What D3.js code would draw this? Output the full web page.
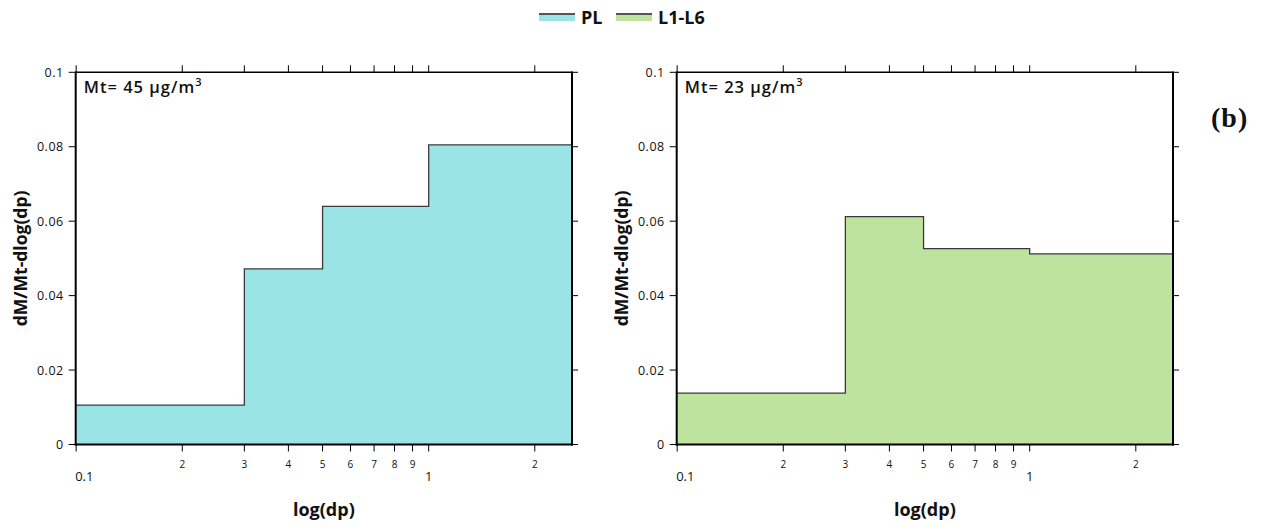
<!DOCTYPE html>
<html>
<head>
<meta charset="utf-8">
<script src="https://cdn.jsdelivr.net/npm/d3@7"></script>
<style>
  html, body { margin: 0; padding: 0; background: #fff; }
  svg { display: block; }
  text { font-family: "Open Sans", "Noto Sans", sans-serif; fill: #111; }
</style>
</head>
<body>
<svg id="chart" width="1262" height="527"></svg>
<script>
// ---- data ----
const categories = ["PL", "L1-L6"];
const binEdges = [0.1, 0.3, 0.5, 1.0, 2.55];
const plValues = [0.0106, 0.0472, 0.0640, 0.0805];
const l16Values = [0.0138, 0.0612, 0.0526, 0.0512];
const mtValues = [45, 23];
const seriesColors = ["#9BE4E6", "#BDE39F"];
const xTickValues = [0.1, 0.2, 0.3, 0.4, 0.5, 0.6, 0.7, 0.8, 0.9, 1, 2];
const xTickLabels = ["0.1", "2", "3", "4", "5", "6", "7", "8", "9", "1", "2"];
const yTickValues = [0, 0.02, 0.04, 0.06, 0.08, 0.1];
const yTickLabels = ["0", "0.02", "0.04", "0.06", "0.08", "0.1"];
const xDomain = [0.0997, 2.55];
const yDomain = [0, 0.1];
const xTitle = "log(dp)";
const yTitle = "dM/Mt-dlog(dp)";
const panelLabel = "(b)";

const svg = d3.select("#chart");
const panels = [
  { values: plValues, color: seriesColors[0], mt: mtValues[0], left: 75.7, right: 572 },
  { values: l16Values, color: seriesColors[1], mt: mtValues[1], left: 676.7, right: 1173 }
];
const plotTop = 72.3, plotBottom = 444.5;

panels.forEach((p) => {
  const g = svg.append("g");
  const x = d3.scaleLog().domain(xDomain).range([p.left, p.right]);
  const y = d3.scaleLinear().domain(yDomain).range([plotBottom, plotTop]);

  const pts = p.values.map((v, i) => ({ x: binEdges[i], y: v }));
  pts.push({ x: binEdges[binEdges.length - 1], y: p.values[p.values.length - 1] });

  const clipId = "clip" + Math.round(p.left);
  svg.append("clipPath").attr("id", clipId)
    .append("rect").attr("x", p.left).attr("y", plotTop).attr("width", p.right - p.left).attr("height", plotBottom - plotTop);

  const area = d3.area().x(d => x(d.x)).y0(y(0)).y1(d => y(d.y)).curve(d3.curveStepAfter);
  const line = d3.line().x(d => x(d.x)).y(d => y(d.y)).curve(d3.curveStepAfter);

  g.append("path").datum(pts).attr("d", area).attr("fill", p.color).attr("clip-path", `url(#${clipId})`);
  g.append("path").datum(pts).attr("d", line).attr("fill", "none")
    .attr("stroke", "#3a3a3a").attr("stroke-width", 1.3).attr("clip-path", `url(#${clipId})`);

  // ticks
  const tk = g.append("g").attr("stroke", "#000").attr("stroke-width", 1);
  yTickValues.forEach(v => {
    tk.append("line").attr("x1", p.left - 7).attr("x2", p.left).attr("y1", y(v)).attr("y2", y(v));
    tk.append("line").attr("x1", p.right).attr("x2", p.right + 6).attr("y1", y(v)).attr("y2", y(v));
  });
  xTickValues.forEach(v => {
    tk.append("line").attr("x1", x(v)).attr("x2", x(v)).attr("y1", plotBottom).attr("y2", plotBottom + 7);
    tk.append("line").attr("x1", x(v)).attr("x2", x(v)).attr("y1", plotTop - 7).attr("y2", plotTop);
  });

  // frame
  const fr = g.append("g").attr("stroke", "#000");
  fr.append("line").attr("x1", p.left).attr("x2", p.right).attr("y1", plotTop).attr("y2", plotTop).attr("stroke-width", 1.5);
  fr.append("line").attr("x1", p.left - 1).attr("x2", p.right + 1).attr("y1", plotBottom).attr("y2", plotBottom).attr("stroke-width", 2);
  fr.append("line").attr("x1", p.left).attr("x2", p.left).attr("y1", plotTop - 0.7).attr("y2", plotBottom + 1).attr("stroke-width", 2);
  fr.append("line").attr("x1", p.right).attr("x2", p.right).attr("y1", plotTop - 0.7).attr("y2", plotBottom + 1).attr("stroke-width", 2);

  // y tick labels
  yTickValues.forEach((v, i) => {
    g.append("text").attr("x", p.left - 12).attr("y", y(v)).attr("dy", "0.36em")
      .attr("text-anchor", "end").attr("font-size", 12.5).attr("letter-spacing", 0.5).text(yTickLabels[i]);
  });
  // x tick labels
  xTickValues.forEach((v, i) => {
    const major = (v === 0.1 || v === 1);
    g.append("text").attr("x", x(v) + (v === 0.1 ? -1 : 0))
      .attr("y", major ? 481 : 468)
      .attr("text-anchor", v === 0.1 ? "start" : "middle")
      .attr("font-size", major ? 13 : 10).text(xTickLabels[i]);
  });

  // axis titles
  g.append("text").attr("x", (p.left + p.right) / 2).attr("y", 516).attr("text-anchor", "middle")
    .attr("font-size", 18).attr("font-weight", "bold").text(xTitle);
  g.append("text").attr("transform", `translate(${p.left - 49},${(plotTop + plotBottom) / 2}) rotate(-90)`)
    .attr("text-anchor", "middle").attr("font-size", 17.5).attr("font-weight", "bold").text(yTitle);

  // annotation
  const ann = g.append("text").attr("x", p.left + 8).attr("y", 92.5).attr("font-size", 16.5)
    .attr("font-weight", 600).attr("letter-spacing", 1);
  ann.append("tspan").text(`Mt= ${p.mt} \u00b5g/m`);
  ann.append("tspan").attr("dy", -7).attr("font-size", 11).text("3");
});

// legend
const legend = svg.append("g");
const legX = [539, 616];
categories.forEach((c, i) => {
  legend.append("rect").attr("x", legX[i]).attr("y", 14).attr("width", 36).attr("height", 7).attr("fill", seriesColors[i]);
  legend.append("line").attr("x1", legX[i]).attr("x2", legX[i] + 36).attr("y1", 14).attr("y2", 14)
    .attr("stroke", "#555").attr("stroke-width", 2);
  legend.append("text").attr("x", legX[i] + 42).attr("y", 24).attr("font-size", 18).attr("font-weight", "bold").text(c);
});

// panel label
svg.append("text").attr("x", 1211).attr("y", 127).attr("font-size", 28).attr("font-weight", "bold")
  .attr("letter-spacing", 1)
  .style("font-family", '"Liberation Serif", "Times New Roman", serif').text(panelLabel);
</script>
</body>
</html>
